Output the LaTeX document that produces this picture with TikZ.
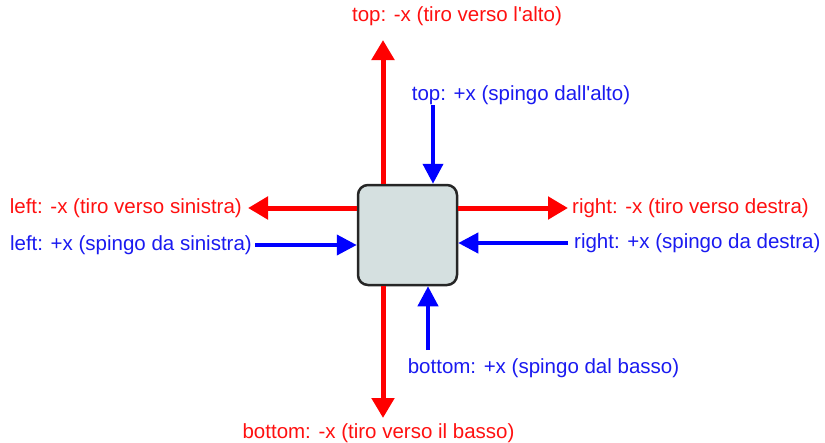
\documentclass[tikz,border=0pt]{standalone}
\usepackage{fontspec}
\newfontfamily\lsans{Liberation Sans}
\usetikzlibrary{arrows.meta}
\definecolor{boxfill}{HTML}{D5E0E0}
\definecolor{txtred}{HTML}{FF1010}
\definecolor{txtblue}{HTML}{1A1AF0}
\begin{document}
\begin{tikzpicture}[x=1pt,y=-1pt,
  redarr/.style={draw=red, line width=5pt, -{Triangle[length=20pt,width=22pt]}},
  bluearr/.style={draw=blue, line width=4pt, -{Triangle[length=20pt,width=20pt]}},
  lbl/.style={inner sep=0pt, font=\lsans\fontsize{20.5}{24}\selectfont},
  redlbl/.style={lbl, text=txtred},
  bluelbl/.style={lbl, text=txtblue},
  blockbox/.style={draw=black!85, line width=2.5pt, fill=boxfill, rounded corners=10pt, minimum width=99pt, minimum height=100pt, inner sep=0pt}]
\useasboundingbox (0,0) rectangle (825,442);
\node[blockbox] (b) at (407.5,235) {};
% labels
\node[redlbl] (tr) at (457,16) {top: -x (tiro verso l'alto)};
\node[bluelbl] (tb) at (521,95) {top: +x (spingo dall'alto)};
\node[redlbl, anchor=east] (lr) at (242,208) {left: -x (tiro verso sinistra)};
\node[bluelbl, anchor=east] (lb) at (252,245) {left: +x (spingo da sinistra)};
\node[redlbl, anchor=west] (rr) at (572,208) {right: -x (tiro verso destra)};
\node[bluelbl, anchor=west] (rb) at (574,243) {right: +x (spingo da destra)};
\node[redlbl] (br) at (378.5,433) {bottom: -x (tiro verso il basso)};
\node[bluelbl] (bb) at (543.5,368) {bottom: +x (spingo dal basso)};
% free ends
\coordinate (ttip) at (383,40);
\coordinate (tstart) at (433,105);
\coordinate (ltip) at (248,208);
\coordinate (lstart) at (255,245);
\coordinate (rtip) at (568,208);
\coordinate (rstart) at (568,243);
\coordinate (btip) at (383,418);
\coordinate (bstart) at (428,350);
% arrows
\draw[redarr] (ttip |- b.north) -- (ttip);
\draw[bluearr] (tstart) -- (tstart |- b.north);
\draw[redarr] (ltip -| b.west) -- (ltip);
\draw[bluearr] (lstart) -- (lstart -| b.west);
\draw[redarr] (rtip -| b.east) -- (rtip);
\draw[bluearr] (rstart) -- (rstart -| b.east);
\draw[redarr] (btip |- b.south) -- (btip);
\draw[bluearr] (bstart) -- (bstart |- b.south);
\end{tikzpicture}
\end{document}
